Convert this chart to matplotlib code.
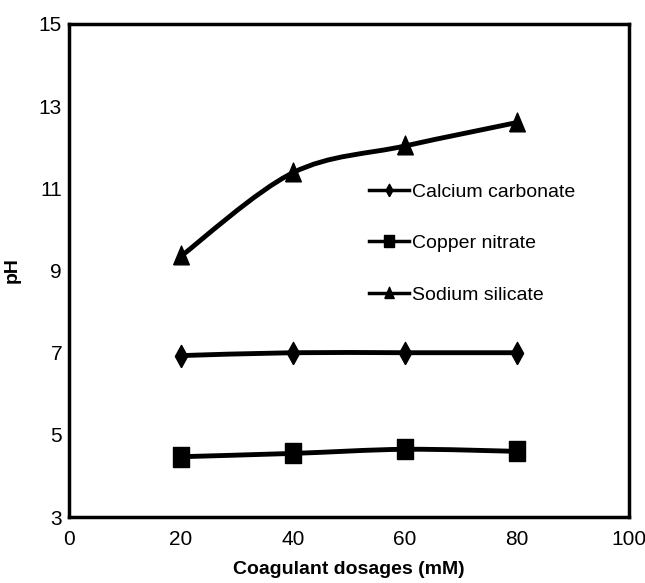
import numpy as np
import matplotlib.pyplot as plt
from matplotlib.path import Path
from matplotlib.patches import PathPatch
from matplotlib.lines import Line2D

plt.rcParams['font.family'] = ['Liberation Sans', 'DejaVu Sans']

dosage = [20, 40, 60, 80]
calcium = [6.93, 7.0, 7.0, 7.0]
copper = [4.47, 4.55, 4.65, 4.6]
sodium = [9.35, 11.38, 12.03, 12.6]

# tall, narrow markers like the original
diamond = Path([(0, -1), (0.55, 0), (0, 1), (-0.55, 0), (0, -1)])
square = Path([(-0.75, -1), (0.75, -1), (0.75, 1), (-0.75, 1), (-0.75, -1)])
triangle = Path([(-0.75, -0.8), (0.75, -0.8), (0, 1), (-0.75, -0.8)])

series = [
    ('Calcium carbonate', calcium, diamond, 16),
    ('Copper nitrate', copper, square, 15),
    ('Sodium silicate', sodium, triangle, 15),
]


def smooth_path(x, y, t=0.5):
    # Excel style smoothed line: Catmull-Rom as cubic bezier
    x = np.asarray(x, float)
    y = np.asarray(y, float)
    verts = [(x[0], y[0])]
    codes = [Path.MOVETO]
    n = len(x)
    for i in range(n - 1):
        i0 = max(i - 1, 0)
        i3 = min(i + 2, n - 1)
        c1 = (x[i] + (x[i + 1] - x[i0]) * t / 3, y[i] + (y[i + 1] - y[i0]) * t / 3)
        c2 = (x[i + 1] - (x[i3] - x[i]) * t / 3, y[i + 1] - (y[i3] - y[i]) * t / 3)
        verts += [c1, c2, (x[i + 1], y[i + 1])]
        codes += [Path.CURVE4] * 3
    return Path(verts, codes)


fig = plt.figure(figsize=(6.45, 5.83), dpi=100)
ax = fig.add_axes([0.107, 0.113, 0.868, 0.846])

handles = []
for name, vals, mk, ms in series:
    ax.add_patch(PathPatch(smooth_path(dosage, vals), fill=False, lw=3.5, color='black'))
    ax.plot(dosage, vals, linestyle='none', marker=mk, ms=ms, color='black')
    handles.append(Line2D([], [], lw=2.5, marker=mk, ms=9, color='black', label=name))

ax.set_xlim(0, 100)
ax.set_ylim(3, 15)
ax.set_xticks([0, 20, 40, 60, 80, 100])
ax.set_yticks([3, 5, 7, 9, 11, 13, 15])
ax.tick_params(length=0, labelsize=15)
ax.tick_params(axis='x', pad=9)
ax.tick_params(axis='y', pad=5)
for s in ax.spines.values():
    s.set_linewidth(2.5)

ax.set_xlabel('Coagulant dosages (mM)', fontsize=14, fontweight='bold', labelpad=9)
ax.set_ylabel('pH', fontsize=14, fontweight='bold', labelpad=13)

ax.legend(handles=handles, loc='upper left', bbox_to_anchor=(0.505, 0.713), frameon=False,
          fontsize=14, handlelength=2.05, handletextpad=0.15, labelspacing=1.75)

plt.savefig('out.png', dpi=100)
